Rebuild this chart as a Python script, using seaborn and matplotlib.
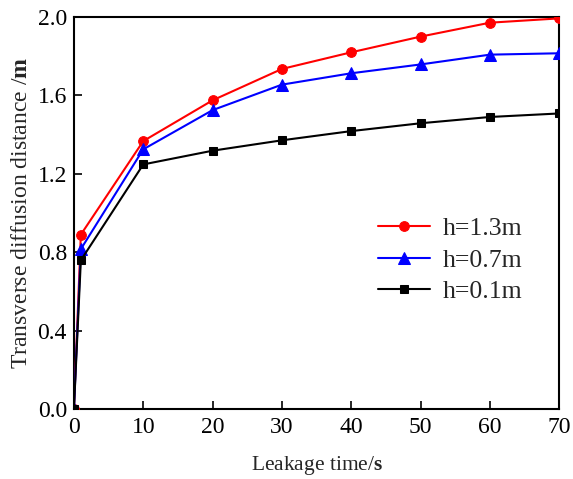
import matplotlib
matplotlib.use("Agg")
import matplotlib.pyplot as plt
import seaborn as sns
import pandas as pd

time_s = [0, 1, 10, 20, 30, 40, 50, 60, 70]
h13 = [0.0, 0.89, 1.367, 1.575, 1.735, 1.82, 1.90, 1.971, 1.993]
h07 = [0.0, 0.816, 1.325, 1.525, 1.655, 1.713, 1.758, 1.808, 1.815]
h01 = [0.0, 0.759, 1.248, 1.318, 1.371, 1.418, 1.458, 1.49, 1.508]
labels = ["h=1.3m", "h=0.7m", "h=0.1m"]
colors = ["#ff0000", "#0000ff", "#000000"]
markers = ["o", "^", "s"]
msizes = [7, 8, 6]

sns.set_theme(style="ticks")
plt.rcParams['font.family'] = ['Liberation Serif', 'DejaVu Serif']
plt.rcParams['mathtext.fontset'] = 'custom'
plt.rcParams['mathtext.rm'] = 'Liberation Serif'
plt.rcParams['mathtext.bf'] = 'Liberation Serif:bold'

rows = []
for lab, vals in zip(labels, [h13, h07, h01]):
    for t, v in zip(time_s, vals):
        rows.append({"time": t, "dist": v, "h": lab})
df = pd.DataFrame(rows)

fig = plt.figure(figsize=(5.73, 4.79), dpi=100)
ax = fig.add_axes([0.129, 0.146, 0.847, 0.8185])
for lab, c, m, ms in zip(labels, colors, markers, msizes):
    sub = df[df["h"] == lab]
    sns.lineplot(data=sub, x="time", y="dist", ax=ax, color=c, marker=m,
                 markersize=ms, markeredgecolor=c, linewidth=1.5, label=lab,
                 zorder=3)

ax.set_xlim(0, 70)
ax.set_ylim(0, 2.0)
ax.set_xticks([0, 10, 20, 30, 40, 50, 60, 70])
ax.set_yticks([0.0, 0.4, 0.8, 1.2, 1.6, 2.0])
ax.set_yticklabels(["0.0", "0.4", "0.8", "1.2", "1.6", "2.0"])
ax.tick_params(direction="in", length=6, width=1.2, labelsize=17, colors="black",
               top=False, right=False)
ax.tick_params(axis="x", pad=6)
ax.tick_params(axis="y", pad=5)
for s in ax.spines.values():
    s.set_linewidth(1.5)
    s.set_color("black")
ax.set_xlabel(r"Leakage time/$\mathbf{s}$", fontsize=15.5, labelpad=11)
ax.set_ylabel(r"Transverse diffusion distance /$\mathbf{m}$", fontsize=17, labelpad=4)
leg = ax.legend(loc="center left", bbox_to_anchor=(0.606, 0.38), frameon=False,
                fontsize=18.5, handlelength=2.0, handletextpad=0.5,
                labelspacing=0.33, borderaxespad=0.0)
plt.savefig("out.png", dpi=100)
